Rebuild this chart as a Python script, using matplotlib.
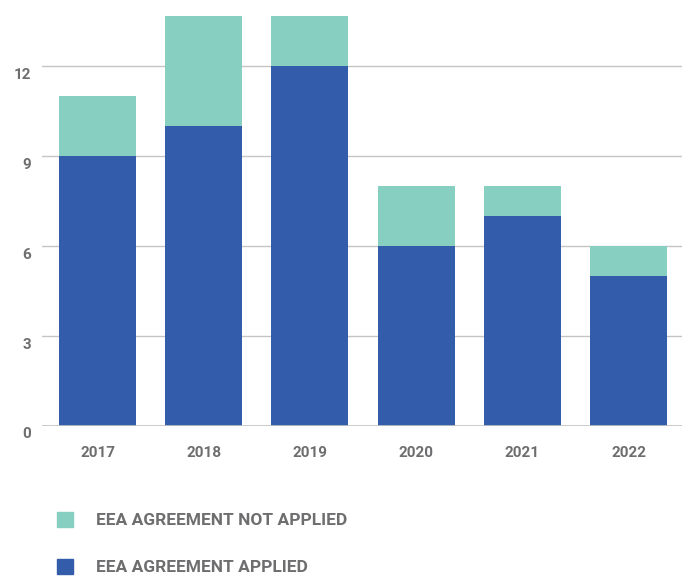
import matplotlib
matplotlib.use("Agg")
import matplotlib.pyplot as plt
from matplotlib.patches import Patch
from matplotlib.transforms import ScaledTranslation

years = ["2017", "2018", "2019", "2020", "2021", "2022"]
applied = [9, 10, 12, 6, 7, 5]
not_applied = [2, 4, 2, 2, 1, 1]
yticks = [0, 3, 6, 9, 12]

c_applied = "#335caa"
c_not_applied = "#87cfc0"
text_color = "#6e6e70"

plt.rcParams["font.family"] = ["Roboto", "DejaVu Sans"]

fig = plt.figure(figsize=(6.83, 5.85), dpi=100)
ax = fig.add_axes([42 / 683, 1 - 426 / 585, 639.6 / 683, 410 / 585])

x = list(range(len(years)))
ax.bar(x, applied, width=0.725, color=c_applied, zorder=2)
ax.bar(x, not_applied, bottom=applied, width=0.725, color=c_not_applied, zorder=2)

ax.set_xlim(-0.523, 5.5)
ax.set_ylim(0, 13.67)
ax.set_yticks(yticks)
ax.set_yticklabels([str(v) for v in yticks])
ax.set_xticks(x)
ax.set_xticklabels(years)
ax.grid(axis="y", color="#c4c4c4", linewidth=1.0, zorder=1)
ax.set_axisbelow(True)
for s in ax.spines.values():
    s.set_visible(False)
ax.axhline(0, color="#c4c4c4", linewidth=1.2, zorder=3)
ax.tick_params(length=0)
ax.tick_params(axis="x", pad=14.5)
ax.tick_params(axis="y", pad=8)
for lab in ax.get_xticklabels() + ax.get_yticklabels():
    lab.set_color(text_color)
    lab.set_fontsize(11)
    lab.set_fontweight("bold")
off = ScaledTranslation(0, -7 / 100, fig.dpi_scale_trans)
for lab in ax.get_yticklabels():
    lab.set_transform(lab.get_transform() + off)

handles = [Patch(color=c_not_applied, label="EEA AGREEMENT NOT APPLIED"),
           Patch(color=c_applied, label="EEA AGREEMENT APPLIED")]
leg = fig.legend(handles=handles, loc="upper left", bbox_to_anchor=(57 / 683, 1 - 512 / 585),
                 frameon=False, borderpad=0, borderaxespad=0,
                 handlelength=0.92, handleheight=0.92, handletextpad=1.3,
                 labelspacing=1.78, prop={"size": 12.5, "weight": "bold"})
for t in leg.get_texts():
    t.set_color(text_color)

fig.savefig("out.png", dpi=100)
